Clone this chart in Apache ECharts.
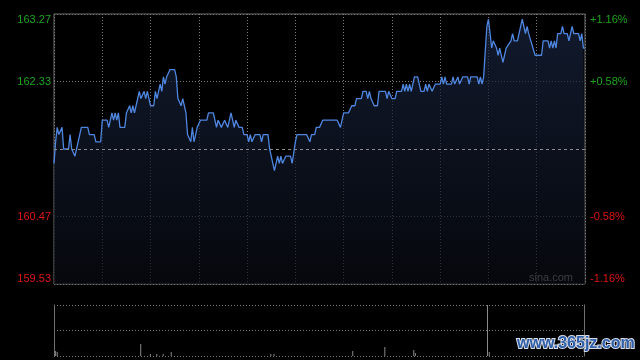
<!DOCTYPE html>
<html>
<head>
<meta charset="utf-8">
<style>
  html, body { margin: 0; padding: 0; background: #000; }
  #chart { width: 640px; height: 360px; }
</style>
<script src="https://cdn.jsdelivr.net/npm/echarts@6/dist/echarts.min.js"></script>
</head>
<body>
<div id="chart"></div>
<script>
var prevClose = 161.40;

// minute of session / last price
var minutes = [0, 1, 2, 3, 5, 6, 9, 10, 11, 12, 13, 14, 15, 17, 21, 22, 25, 26, 29, 30,
  33, 34, 36, 37, 38, 39, 40, 41, 44, 45, 46, 47, 48, 49, 50, 51, 52, 53, 54, 55,
  56, 57, 58, 59, 60, 62, 63, 64, 66, 67, 68, 69, 70, 71, 72, 75, 76, 77, 79, 80,
  82, 83, 84, 85, 86, 87, 89, 90, 91, 95, 96, 99, 100, 101, 102, 104, 105, 106, 108, 110,
  111, 112, 113, 115, 117, 118, 120, 121, 122, 123, 124, 125, 128, 129, 130, 133, 134, 135, 137, 138,
  139, 140, 141, 142, 144, 147, 148, 149, 150, 151, 157, 159, 160, 162, 163, 165, 167, 176, 178, 179,
  180, 183, 185, 187, 188, 191, 192, 194, 195, 196, 197, 199, 201, 202, 206, 207, 208, 209, 210, 212,
  213, 216, 217, 218, 219, 220, 221, 222, 224, 226, 228, 230, 231, 232, 233, 234, 235, 237, 240, 241,
  242, 243, 244, 247, 248, 249, 250, 251, 252, 253, 254, 257, 258, 259, 263, 264, 265, 266, 267, 268,
  269, 270, 271, 272, 273, 274, 275, 276, 277, 279, 280, 281, 282, 284, 285, 286, 288, 289, 290, 291,
  292, 293, 294, 295, 296, 299, 303, 304, 307, 308, 309, 310, 311, 312, 313, 315, 316, 317, 319, 320,
  322, 323, 326, 327, 328, 329, 330];
var prices = [161.2, 161.5, 161.7, 161.6, 161.7, 161.4, 161.4, 161.6, 161.4, 161.4, 161.3, 161.4, 161.5, 161.7, 161.7, 161.6, 161.6, 161.5, 161.5, 161.8,
  161.8, 161.7, 161.9, 161.8, 161.9, 161.8, 161.9, 161.7, 161.7, 161.9, 161.9, 162.0, 161.9, 162.0, 161.9, 162.0, 162.0, 162.2, 162.1, 162.1,
  162.2, 162.1, 162.2, 162.1, 162.0, 162.0, 162.2, 162.1, 162.3, 162.2, 162.4, 162.3, 162.4, 162.4, 162.5, 162.5, 162.4, 162.1, 162.0, 162.1,
  161.9, 161.6, 161.6, 161.5, 161.7, 161.5, 161.7, 161.7, 161.8, 161.8, 161.9, 161.9, 161.8, 161.7, 161.8, 161.7, 161.7, 161.8, 161.7, 161.9,
  161.8, 161.7, 161.8, 161.7, 161.7, 161.6, 161.6, 161.5, 161.6, 161.5, 161.5, 161.6, 161.6, 161.5, 161.6, 161.6, 161.4, 161.3, 161.1, 161.1,
  161.3, 161.2, 161.3, 161.2, 161.3, 161.3, 161.2, 161.2, 161.5, 161.6, 161.6, 161.5, 161.6, 161.6, 161.7, 161.7, 161.8, 161.8, 161.7, 161.8,
  161.9, 161.9, 162.0, 162.0, 162.1, 162.1, 162.2, 162.2, 162.1, 162.2, 162.1, 162.0, 162.0, 162.2, 162.2, 162.1, 162.2, 162.2, 162.1, 162.1,
  162.2, 162.2, 162.3, 162.2, 162.3, 162.2, 162.3, 162.2, 162.4, 162.4, 162.2, 162.2, 162.3, 162.2, 162.3, 162.3, 162.2, 162.3, 162.3, 162.4,
  162.3, 162.4, 162.3, 162.3, 162.4, 162.3, 162.3, 162.4, 162.3, 162.3, 162.4, 162.4, 162.3, 162.4, 162.4, 162.3, 162.4, 162.3, 162.4, 162.4,
  163.1, 163.2, 163.0, 162.8, 162.9, 162.9, 162.8, 162.7, 162.8, 162.6, 162.7, 162.8, 162.8, 162.9, 163.0, 162.9, 162.9, 163.0, 163.0, 163.2,
  163.2, 163.0, 163.1, 163.0, 163.0, 162.7, 162.7, 162.9, 162.9, 162.8, 162.9, 162.8, 162.9, 162.8, 163.0, 163.0, 163.1, 163.0, 163.0, 162.9,
  163.1, 163.0, 163.0, 162.9, 163.0, 162.8, 162.8];

var leftLabels = ['159.53', '160.47', '', '162.33', '163.27'];
var rightLabels = ['-1.16%', '-0.58%', '', '+0.58%', '+1.16%'];

// visible volume bars (height in px of the small pane)
var volMinutes = [1, 2, 54, 60, 64, 68, 73, 135, 137, 186, 206, 224, 225, 271];
var volValues = [5, 4, 12, 2, 2, 2, 4, 2, 2, 5, 9, 6, 3, 4];

var chart = echarts.init(document.getElementById('chart'));

var priceData = minutes.map(function (m, i) {
  return [m, (prices[i] / prevClose - 1) * 100];
});
var volData = volMinutes.map(function (m, i) {
  return [m, volValues[i]];
});

var upColor = '#1fa31f';
var downColor = '#e01414';
var borderColor = '#707070';
var dotColor = '#7a7a7a';
var font = "'Liberation Sans', Arial, sans-serif";

function labelColor(v) {
  return v > 0.001 ? upColor : downColor;
}

var option = {
  backgroundColor: '#000',
  animation: false,
  grid: [
    { left: 54, right: 55, top: 14, height: 270, show: true, borderColor: borderColor, borderWidth: 1, backgroundColor: 'transparent' },
    { left: 54, right: 56, top: 305, height: 51 }
  ],
  xAxis: [
    {
      type: 'value', gridIndex: 0, min: 0, max: 330, interval: 30,
      axisLine: { show: false }, axisTick: { show: false }, axisLabel: { show: false },
      splitLine: { show: true, lineStyle: { color: dotColor, type: [1, 2], width: 1 } }
    },
    {
      type: 'value', gridIndex: 1, min: 0, max: 330,
      axisLine: { show: false }, axisTick: { show: false }, axisLabel: { show: false },
      splitLine: { show: false }
    }
  ],
  yAxis: [
    {
      type: 'value', gridIndex: 0, position: 'left', min: -1.16, max: 1.16, interval: 0.58,
      axisLine: { show: false }, axisTick: { show: false },
      axisLabel: {
        margin: 3, fontSize: 11, fontFamily: font,
        verticalAlignMinLabel: 'bottom', verticalAlignMaxLabel: 'top',
        color: labelColor,
        formatter: function (v, i) { return leftLabels[i]; }
      },
      splitLine: { show: true, lineStyle: { color: [borderColor, dotColor, 'rgba(0,0,0,0)', dotColor, borderColor], type: [1, 2] } }
    },
    {
      type: 'value', gridIndex: 0, position: 'right', min: -1.16, max: 1.16, interval: 0.58,
      axisLine: { show: false }, axisTick: { show: false },
      axisLabel: {
        margin: 5, fontSize: 11, fontFamily: font,
        verticalAlignMinLabel: 'bottom', verticalAlignMaxLabel: 'top',
        color: labelColor,
        formatter: function (v, i) { return rightLabels[i]; }
      },
      splitLine: { show: false }
    },
    {
      type: 'value', gridIndex: 1, position: 'left', min: 0, max: 51, interval: 25.5,
      axisLine: { show: true, lineStyle: { color: borderColor } },
      axisTick: { show: false }, axisLabel: { show: false },
      splitLine: { show: true, lineStyle: { color: dotColor, type: [1, 2] } }
    },
    {
      type: 'value', gridIndex: 1, position: 'right', min: 0, max: 51,
      axisLine: { show: true, lineStyle: { color: borderColor } },
      axisTick: { show: false }, axisLabel: { show: false },
      splitLine: { show: false }
    }
  ],
  series: [
    {
      type: 'line',
      xAxisIndex: 0,
      yAxisIndex: 0,
      data: priceData,
      symbol: 'none',
      lineStyle: { color: '#4f86e0', width: 1.3 },
      areaStyle: {
        origin: 'start',
        color: new echarts.graphic.LinearGradient(0, 0, 0, 1, [
          { offset: 0, color: '#18243f' },
          { offset: 1, color: '#080b12' }
        ])
      },
      markLine: {
        silent: true,
        symbol: 'none',
        label: { show: false },
        lineStyle: { color: '#8c8c8c', type: [3, 3], width: 1 },
        data: [{ yAxis: 0 }]
      }
    },
    {
      type: 'bar',
      xAxisIndex: 1,
      yAxisIndex: 2,
      data: volData,
      barWidth: 1,
      itemStyle: { color: '#8a8a8a' },
      markLine: {
        silent: true,
        symbol: 'none',
        label: { show: false },
        lineStyle: { color: '#8a8a8a', type: 'solid', width: 1 },
        data: [{ xAxis: 270 }]
      }
    }
  ],
  graphic: [
    {
      type: 'text', right: 67, top: 272,
      style: { text: 'sina.com', fill: '#a8a8a8', font: '11px ' + font }
    },
    {
      type: 'text', left: 516, top: 335, z: 100,
      style: {
        text: 'www.365jz.com', fill: '#2f5fa8', stroke: '#d8dde8', lineWidth: 2,
        font: 'bold 16px "Liberation Sans", Arial, sans-serif'
      }
    }
  ]
};

chart.setOption(option);
</script>
</body>
</html>
